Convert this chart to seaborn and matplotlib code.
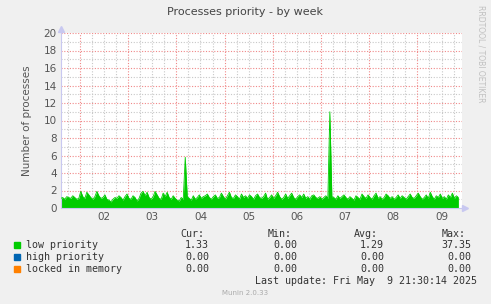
'''
    Munin style weekly chart: processes priority
'''

# %% Settings
import numpy as np
import pandas as pd
import matplotlib
matplotlib.use('Agg')
import matplotlib.pyplot as plt
import seaborn as sns

# %% Data (hourly samples)
start_day = 1.6          # May 1, ~14:30
step_day = 1 / 24
low_priority = [
    1.1, 1.2, 1.0, 1.3, 1.2, 1.1, 1.4, 1.2, 1.0, 1.1, 1.9, 1.3, 1.1, 1.8, 1.5, 1.2, 1.0, 1.3, 1.9, 1.4, 1.1, 1.2, 1.5, 1.0,
    0.9, 0.7, 1.0, 1.2, 1.1, 1.4, 1.2, 0.9, 1.3, 1.6, 1.1, 1.0, 1.4, 1.2, 0.8, 1.1, 1.7, 1.9, 1.4, 1.8, 1.2, 1.0, 1.3, 1.9,
    1.5, 1.1, 1.0, 1.7, 1.3, 1.8, 1.2, 1.0, 1.4, 1.1, 0.9, 0.8, 1.2, 1.0, 5.8, 1.3, 1.1, 0.9, 1.4, 1.0, 1.2, 1.5, 1.1, 1.3,
    1.4, 1.6, 1.2, 1.0, 1.3, 1.5, 1.1, 1.2, 1.7, 1.3, 1.0, 1.4, 1.8, 1.2, 1.1, 1.5, 1.3, 1.0, 1.6, 1.2, 1.4, 1.1, 1.5, 1.3,
    1.0, 1.4, 1.6, 1.2, 1.1, 1.3, 1.7, 1.0, 1.2, 1.5, 1.1, 1.4, 1.8, 1.3, 1.0, 1.2, 1.6, 1.1, 1.4, 1.7, 1.2, 1.0, 1.3, 1.5,
    1.2, 1.6, 1.1, 1.3, 1.0, 1.4, 1.5, 1.2, 1.1, 1.3, 1.0, 1.2, 1.4, 1.1, 11.0, 1.3, 1.2, 1.0, 1.4, 1.1, 1.3, 1.5, 1.2, 1.0,
    1.3, 1.1, 0.9, 1.4, 1.2, 1.0, 1.6, 1.3, 1.1, 1.5, 1.2, 1.0, 1.4, 1.7, 1.1, 1.3, 1.0, 1.2, 1.6, 1.4, 1.1, 1.3, 1.0, 1.2,
    1.5, 1.1, 1.4, 1.2, 1.0, 1.3, 1.6, 1.2, 1.1, 1.4, 1.7, 1.3, 1.0, 1.2, 1.5, 1.1, 1.8, 1.3, 1.0, 1.4, 1.2, 1.6, 1.1, 1.3,
    1.0, 1.5, 1.2, 1.7, 1.1, 1.4, 1.2,
]
day_labels = ['02', '03', '04', '05', '06', '07', '08', '09']
day_ticks = [2.5, 3.5, 4.5, 5.5, 6.5, 7.5, 8.5, 9.5]
y_ticks = [0, 2, 4, 6, 8, 10, 12, 14, 16, 18, 20]

series_names = ['low priority', 'high priority', 'locked in memory']
series_colors = ['#00CC00', '#0066B3', '#FF8000']
cur_vals = ['1.33', '0.00', '0.00']
min_vals = ['0.00', '0.00', '0.00']
avg_vals = ['1.29', '0.00', '0.00']
max_vals = ['37.35', '0.00', '0.00']

df = pd.DataFrame({'day': start_day + np.arange(len(low_priority)) * step_day,
                   'value': low_priority})

# %% Figure
sns.set_style('white')
plt.rcParams['font.family'] = ['DejaVu Sans']
W, H = 491, 304
fig = plt.figure(figsize=(W / 100, H / 100), dpi=100, facecolor='#F0F0F0')
ax = fig.add_axes([61 / W, 1 - 208 / H, 401 / W, 175 / H])
ax.set_facecolor('white')

x_min, x_max = 1.606, 9.925
ax.set_xlim(x_min, x_max)
ax.set_ylim(0, 20)

# grid: gray minor, red major
dots = (0, (1, 1.5))
for yv in np.arange(1, 20, 2):
    ax.axhline(yv, color='#C8C8C8', lw=0.8, ls=dots, zorder=0)
for yv in y_ticks[1:]:
    ax.axhline(yv, color='#F08888', lw=0.8, ls=dots, zorder=0)
for xv in np.arange(1.75, x_max, 0.25):
    if abs(xv - round(xv)) > 1e-6:
        ax.axvline(xv, color='#C8C8C8', lw=0.8, ls=dots, zorder=0)
for xv in range(2, 10):
    ax.axvline(xv, color='#F08888', lw=0.8, ls=dots, zorder=0)

# area
ax.fill_between(df['day'], df['value'], color=series_colors[0], lw=0, zorder=2)
sns.lineplot(data=df, x='day', y='value', ax=ax, color=series_colors[0], lw=0.6, zorder=3)

ax.set_xticks(day_ticks)
ax.set_xticklabels(day_labels)
ax.set_yticks(y_ticks)
ax.tick_params(length=0, labelsize=7.5, labelcolor='#555555', pad=3)
ax.set_xlabel('')
ax.set_ylabel('Number of processes', fontsize=7.5, color='#555555', labelpad=8)

for side in ['top', 'right']:
    ax.spines[side].set_visible(False)
for side in ['left', 'bottom']:
    ax.spines[side].set_color('#C8C8F0')
    ax.spines[side].set_linewidth(0.8)
ax.plot(0, 1.025, marker='^', ms=4, color='#C8C8F0', transform=ax.transAxes, clip_on=False)
ax.plot(1.008, 0, marker='>', ms=4, color='#C8C8F0', transform=ax.transAxes, clip_on=False)

# %% Texts
def fx(px):
    return px / W

def fy(py):
    return 1 - py / H

fig.text(fx(245), fy(12), 'Processes priority - by week', ha='center', va='center',
         fontsize=8, color='#444444')
fig.text(fx(481), fy(5), 'RRDTOOL / TOBI OETIKER', ha='center', va='top', rotation=270,
         fontsize=5.5, color='#C0C0C0')

mono = 'DejaVu Sans Mono'
fs = 7.2
col = '#333333'
for hdr, xp in zip(['Cur:', 'Min:', 'Avg:', 'Max:'], [180, 268, 354, 442]):
    fig.text(fx(xp), fy(234), hdr, ha='left', va='center', family=mono, fontsize=fs, color=col)

rows_y = [245, 257, 269]
for name, color, c, mn, av, mx, yp in zip(series_names, series_colors, cur_vals, min_vals,
                                         avg_vals, max_vals, rows_y):
    fig.patches.append(plt.Rectangle((fx(14), fy(yp + 3)), 6 / W, 6 / H, color=color,
                                     transform=fig.transFigure, figure=fig))
    fig.text(fx(26), fy(yp), name, ha='left', va='center', family=mono, fontsize=fs, color=col)
    for val, xp in zip([c, mn, av, mx], [209, 297, 384, 471]):
        fig.text(fx(xp), fy(yp), val, ha='right', va='center', family=mono, fontsize=fs, color=col)

fig.text(fx(477), fy(281), 'Last update: Fri May  9 21:30:14 2025', ha='right', va='center',
         family=mono, fontsize=fs, color=col)
fig.text(fx(245), fy(293), 'Munin 2.0.33', ha='center', va='center', fontsize=5, color='#AAAAAA')

plt.savefig('out.png', dpi=100, facecolor=fig.get_facecolor())
